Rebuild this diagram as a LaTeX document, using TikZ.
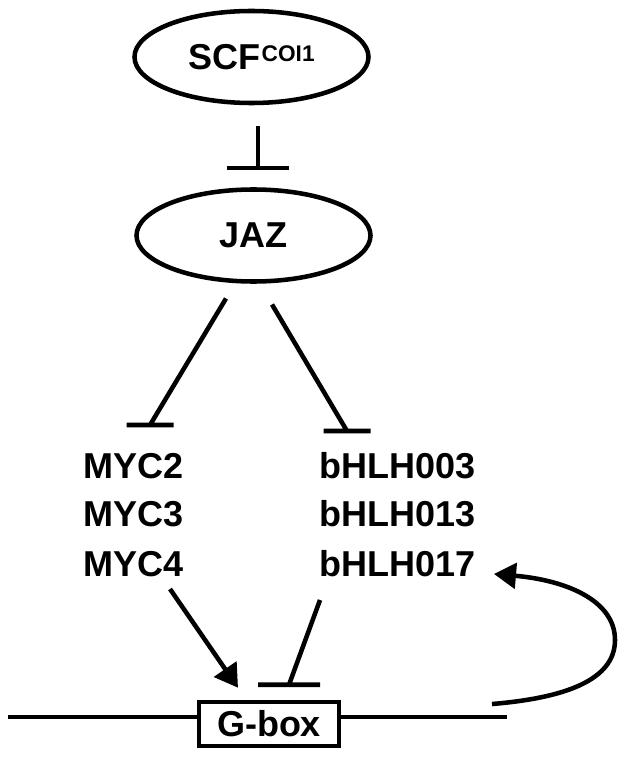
\documentclass[tikz,border=0pt]{standalone}
\usepackage{fontspec}
\setmainfont{Liberation Sans}
\usetikzlibrary{arrows.meta,calc,shapes.geometric}
\begin{document}
\begin{tikzpicture}[x=0.75pt,y=-0.75pt,line width=3.4pt,
  lbl/.style={font=\fontsize{27}{30}\selectfont\bfseries,inner sep=0pt},
  oval/.style={ellipse,draw,minimum width=175.5pt,minimum height=69pt,inner sep=0pt,font=\fontsize{27}{30}\selectfont\bfseries},
  tee/.style={to path={-- (\tikztotarget) ++(-#1,0) -- ++(2*#1,0)}},
  act/.style={-{Triangle[length=17pt,width=20pt]}},
  actloop/.style={-{Triangle[length=16.5pt,width=19pt]}}]
\useasboundingbox (0,0) rectangle (628,759);
\node[oval] (scf) at (251.5,57) {SCF\hspace{1pt}\raisebox{6pt}{\fontsize{17}{17}\selectfont COI1}};
\node[oval] (jaz) at (253.5,235.5) {JAZ};
\node[lbl,anchor=base west] (myc2) at (81,478) {MYC2};
\node[lbl,anchor=base west] (myc3) at (81,526) {MYC3};
\node[lbl,anchor=base west] (myc4) at (81,576) {MYC4};
\node[lbl,anchor=base west] (b003) at (317,478) {bHLH003};
\node[lbl,anchor=base west] (b013) at (317,526) {bHLH013};
\node[lbl,anchor=base west] (b017) at (317,576) {bHLH017};
\node[lbl,draw,minimum width=105pt,minimum height=33pt] (gbox) at (269,724) {G-box};
\coordinate (dnaL) at (8,717);
\coordinate (dnaR) at (507,717);
\coordinate (loopS) at (492,704);
\draw[tee=31] ($(scf.south)+(6.5,21)$) to ($(jaz.north)+(4.5,-19)$);
\draw[tee=23.5] ($(jaz.center)+(-27.5,63)$) to ($(myc2.base west)+(69,-53)$);
\draw[tee=23.5] ($(jaz.center)+(18.5,69)$) to ($(b003.base west)+(30,-47)$);
\draw[act] ($(myc4.base west)+(89,13)$) -- ($(gbox.north)+(-31,-12)$);
\draw[tee=31] ($(b017.base west)+(3,24)$) to ($(gbox.north)+(20,-15)$);
\draw (dnaL) -- (dnaL -| gbox.west);
\draw (gbox.east |- dnaR) -- (dnaR);
\draw[actloop] (loopS) .. controls (565,698) and (615,680) .. (615,640) .. controls (615,600) and (565,580) .. ($(b017.base west)+(177,-2)$);
\end{tikzpicture}
\end{document}
